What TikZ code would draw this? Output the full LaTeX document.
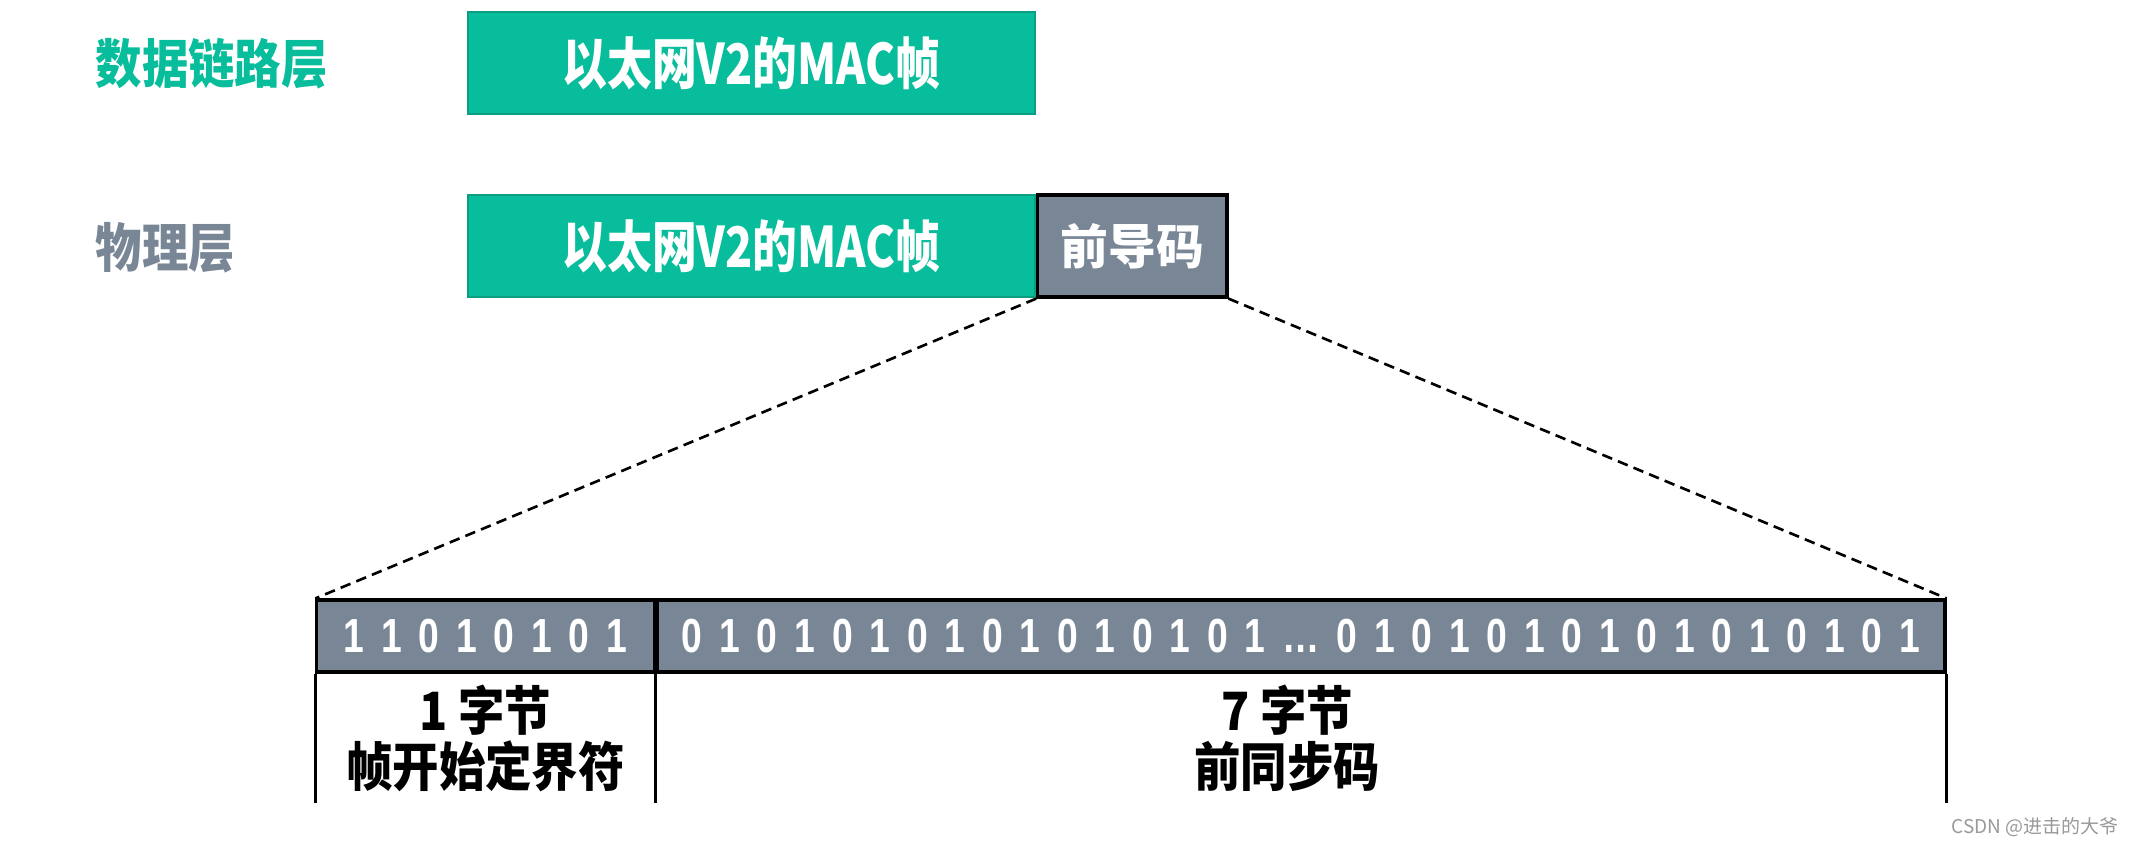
\documentclass[tikz,border=0pt]{standalone}
\usepackage{fontspec}
\usepackage{xcolor}
\usetikzlibrary{positioning}
\newfontfamily\cjknarrow[FakeStretch=0.88]{Noto Sans CJK SC}
\newfontfamily\macfont[FakeStretch=0.8]{Noto Sans CJK SC}
\newfontfamily\cjkwide{Noto Sans CJK SC}
\newfontfamily\bitfont[FakeStretch=0.78,WordSpace=1.62]{Liberation Sans}
\definecolor{macgreen}{HTML}{07BD9B}
\definecolor{macedge}{HTML}{0B9E80}
\definecolor{slate}{HTML}{788696}

\begin{document}
\begin{tikzpicture}[x=0.01cm,y=-0.01cm,
 layer/.style={anchor=west,inner sep=0pt,font=\cjknarrow\bfseries\fontsize{15}{16}\selectfont},
 frame/.style={draw=macedge,line width=0.6pt,fill=macgreen,text=white,inner sep=0pt,
               minimum width=5.67cm,minimum height=1.02cm,font=\macfont\bfseries\fontsize{15.9}{17}\selectfont},
 pre/.style={draw=black,line width=0.9pt,fill=slate,text=white,inner sep=0pt,
             minimum width=1.89cm,minimum height=1.02cm,font=\cjkwide\bfseries\fontsize{13.6}{15}\selectfont},
 bits/.style={draw=black,line width=0.9pt,fill=slate,text=white,inner sep=0pt,
              minimum height=0.72cm,font=\bitfont\bfseries\fontsize{13.6}{14}\selectfont},
 zoomline/.style={dashed,dash pattern=on 3pt off 1.8pt,line width=0.75pt},
 rule/.style={line width=0.7pt},
 desc/.style={align=center,inner sep=0pt,font=\cjknarrow\bfseries\fontsize{15}{15.9}\selectfont},
 wmark/.style={inner sep=0pt,text=black!40,font=\cjkwide\fontsize{5.4}{6}\selectfont}
]
\useasboundingbox (0,0) rectangle (2133,848);

\node[layer,text=macgreen] (dll) at (95,64) {数据链路层};
\node[frame] (mac1) at (751.5,63) {以太网V2的MAC帧};

\node[layer,text=slate] (phy) at (95,248) {物理层};
\node[frame] (mac2) at (751.5,246) {以太网V2的MAC帧};
\node[pre,right=0pt of mac2] (pre) {前导码};

\node[bits,minimum width=3.37cm] (sfd) at (485.5,636) {1 1 0 1 0 1 0 1};
\node[bits,minimum width=12.87cm,right=0pt of sfd] (sync) {0 1 0 1 0 1 0 1 0 1 0 1 0 1 0 1 … 0 1 0 1 0 1 0 1 0 1 0 1 0 1 0 1};

\draw[zoomline] (pre.south west)--(sfd.north west);
\draw[zoomline] (pre.south east)--(sync.north east);

\coordinate (base) at (0,803);
\draw[rule] (sfd.south west)--(sfd.south west |- base);
\draw[rule] (sfd.south east)--(sfd.south east |- base);
\draw[rule] (sync.south east)--(sync.south east |- base);

\node[desc] (sfdtxt) at (485.5,738) {1 字节\\帧开始定界符};
\node[desc] (synctxt) at (1287,738) {7 字节\\前同步码};

\node[wmark] (credit) at (2035,827) {CSDN @进击的大爷};
\end{tikzpicture}
\end{document}
